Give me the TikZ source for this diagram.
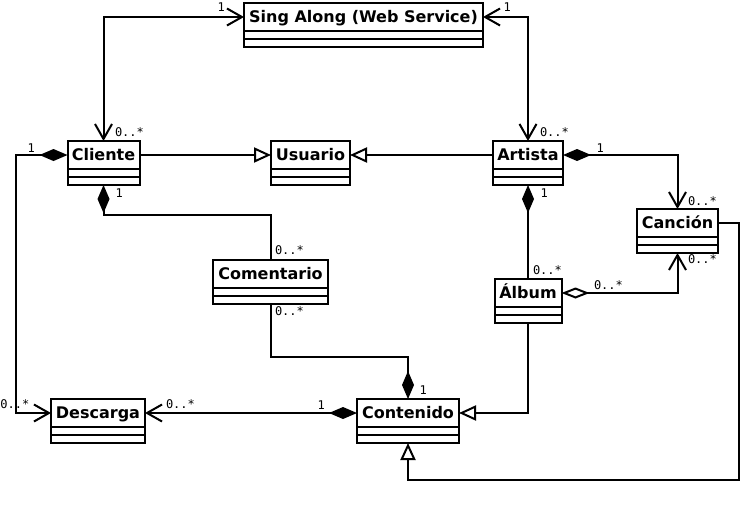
\documentclass[tikz,border=0pt]{standalone}
\usepackage{fontspec}
\setmainfont{DejaVu Sans}
\newfontfamily\multfont{DejaVu Sans Mono}
\usetikzlibrary{arrows.meta,calc}
\newcommand\umlcls[5]{%
  \node[namebox, minimum width=#4pt] (#1) at (#2,#3+14) {#5};
  \node[compbox, minimum width=#4pt] (#1-a) at (#1.south) {};
  \node[compbox, minimum width=#4pt] (#1-b) at (#1-a.south) {};
}
\begin{document}
\begin{tikzpicture}[x=1pt,y=-1pt,line width=2pt,
  namebox/.style={draw,rectangle,inner sep=0pt,outer sep=0pt,minimum height=28pt,
    text height=12pt,text depth=2pt,font=\fontsize{16}{18}\selectfont\bfseries},
  compbox/.style={draw,rectangle,inner sep=0pt,outer sep=0pt,minimum height=8pt,anchor=north},
  mult/.style={inner sep=0pt,anchor=base west,font=\multfont\fontsize{12}{14}\selectfont},
  barb/.tip={Straight Barb[length=15pt,width=17pt]},
  comp/.tip={Diamond[length=28pt,width=12pt]},
  agg/.tip={Diamond[open,length=28pt,width=11pt,fill=white]},
  gen/.tip={Triangle[open,length=17pt,width=15pt,fill=white]},
  conn/.style={draw,line join=miter}
]
\path[use as bounding box,fill=white] (0,0) rectangle (742,514);

\umlcls{sing}{363.5}{3}{239}{Sing Along (Web Service)}
\umlcls{cli}{103.5}{141}{72}{Cliente}
\umlcls{usu}{310.5}{141}{79}{Usuario}
\umlcls{art}{528}{141}{70}{Artista}
\umlcls{can}{677.5}{209}{81}{Canción}
\umlcls{com}{270.5}{260}{115}{Comentario}
\umlcls{alb}{528}{279}{67}{Álbum}
\umlcls{desc}{98}{399}{94}{Descarga}
\umlcls{cont}{408}{399}{102}{Contenido}

\coordinate (r) at (739,480);

% connectors
\draw[conn,barb-barb] (sing.west) -| (cli.north);
\draw[conn,barb-barb] (sing.east) -| (art.north);
\draw[conn,-gen] (cli.east) -- (usu.west);
\draw[conn,-gen] (art.west) -- (usu.east);
\draw[conn,comp-barb] (art.east) -| (can.north);
\draw[conn,comp-] (art-b.south) -- (alb.north);
\draw[conn,agg-barb] (alb.east) -| (can-b.south);
\draw[conn,comp-] (cli-b.south) -- ++(0,30) -| (com.north);
\draw[conn,-comp] (com-b.south) -- ++(0,53) -| (cont.north);
\draw[conn,comp-barb] (cli.west) -- ++(-52,0) |- (desc.west);
\draw[conn,comp-barb] (cont.west) -- (desc.east);
\draw[conn,-gen] (alb-b.south) |- (cont.east);
\draw[conn,-gen] (can.east) -| (r) -| (cont-b.south);

% multiplicities
\node[mult] (m1) at (216.5,12) {1};
\node[mult] (m2) at (114,136) {0..*};
\node[mult] (m3) at (502.5,12) {1};
\node[mult] (m4) at (539,136) {0..*};
\node[mult] (m5) at (595.5,152) {1};
\node[mult] (m6) at (687,205) {0..*};
\node[mult] (m7) at (539.5,197) {1};
\node[mult] (m8) at (532,274) {0..*};
\node[mult] (m9) at (593,289) {0..*};
\node[mult] (m10) at (687,263) {0..*};
\node[mult] (m11) at (114.5,197) {1};
\node[mult] (m12) at (274,254) {0..*};
\node[mult] (m13) at (274,315) {0..*};
\node[mult] (m14) at (418.5,394) {1};
\node[mult] (m15) at (26.5,152) {1};
\node[mult] (m16) at (-0.5,408) {0..*};
\node[mult] (m17) at (165,408) {0..*};
\node[mult] (m18) at (316.5,409) {1};
\end{tikzpicture}
\end{document}
